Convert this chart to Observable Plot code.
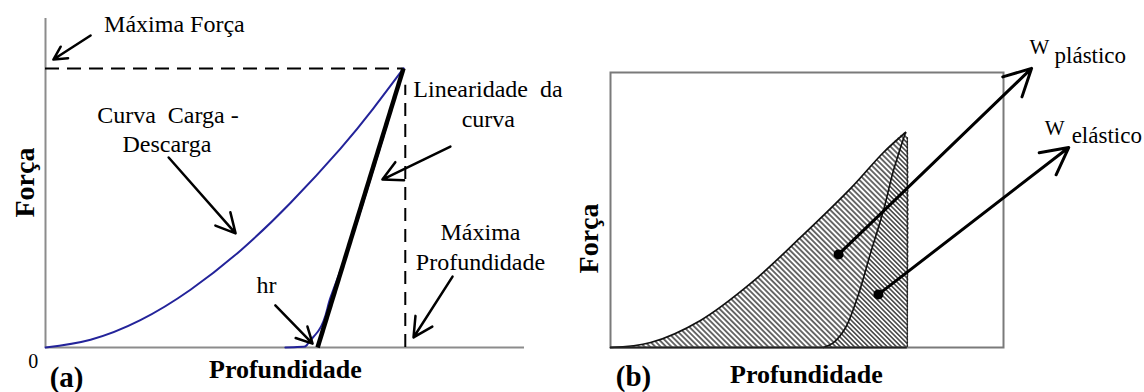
<!DOCTYPE html>
<html><head><meta charset="utf-8">
<script src="https://cdn.jsdelivr.net/npm/d3@7"></script>
<script src="https://cdn.jsdelivr.net/npm/@observablehq/plot@0.6"></script>
<style>
html,body{margin:0;padding:0;background:#fff;}
#chart{position:relative;width:1144px;height:392px;overflow:hidden;background:#fff;}
#chart svg{position:absolute;top:0;}
</style></head><body><div id="chart"></div>
<script>
// ---------- Panel (a): load-unload curve (normalised depth / force) ----------
const loadDepthA   = [0, 0.126, 0.265, 0.405, 0.545, 0.684, 0.824, 0.916, 1];
const loadForceA   = [0, 0.028, 0.098, 0.207, 0.348, 0.518, 0.713, 0.857, 1];
const unloadDepthA = [1, 0.919, 0.838, 0.796, 0.763, 0.735, 0.726, 0.670];
const unloadForceA = [1, 0.652, 0.326, 0.179, 0.061, 0.018, 0.004, 0];
const slopeDepthA  = [1, 0.760];
const slopeForceA  = [1, 0];
const extentA      = [1.338, 1.179];   // axis ends (depth, force)
const maxMarkA     = [1.005, 0.94];    // max-depth dashed line (depth, top)

const notesA = [
  {text: "Máxima Força", x: 0.360, y: 1.129},
  {text: "Curva\u00a0 Carga -", x: 0.342, y: 0.806},
  {text: "Descarga", x: 0.339, y: 0.699},
  {text: "Linearidade\u00a0 da", x: 1.236, y: 0.896},
  {text: "curva", x: 1.237, y: 0.789},
  {text: "hr", x: 0.617, y: 0.194},
  {text: "Máxima", x: 1.215, y: 0.384},
  {text: "Profundidade", x: 1.215, y: 0.276}
];
const tagA    = [{text: "(a)", x: 0.059, y: -0.143}];
const xLabelA = [{text: "Profundidade", x: 0.670, y: -0.108}];
const zeroA   = [{text: "0", x: -0.034, y: -0.072}];
const yLabelA = [{text: "Força", x: -0.031, y: 0.591}];
const arrowsA = [
  {x1: 0.126, y1: 1.118, x2: 0.022, y2: 1.032},
  {x1: 0.344, y1: 0.681, x2: 0.531, y2: 0.409},
  {x1: 1.131, y1: 0.720, x2: 0.941, y2: 0.602},
  {x1: 0.642, y1: 0.151, x2: 0.746, y2: 0.014},
  {x1: 1.137, y1: 0.254, x2: 1.028, y2: 0.036}
];

// ---------- Panel (b): plastic / elastic work ----------
const loadDepthB   = [0, 0.136, 0.305, 0.475, 0.644, 0.814, 0.925, 1];
const loadForceB   = [0, 0.023, 0.126, 0.298, 0.512, 0.740, 0.907, 1];
const unloadDepthB = [1, 0.959, 0.925, 0.881, 0.837, 0.797, 0.756, 0.722];
const unloadForceB = [1, 0.823, 0.637, 0.437, 0.233, 0.093, 0.023, 0];
const edgeDepthB   = [1.006, 1.006];
const edgeForceB   = [0.975, 0];
const extentB      = [1.332, 1.279];

const wLabelsB = [{text: "W", x: 1.420, y: 1.367}, {text: "W", x: 1.472, y: 0.986}];
const subsB    = [{text: "plástico", x: 1.505, y: 1.321}, {text: "elástico", x: 1.563, y: 0.949}];
const tagB     = [{text: "(b)", x: 0.078, y: -0.177}];
const xLabelB  = [{text: "Profundidade", x: 0.664, y: -0.163}];
const yLabelB  = [{text: "Força", x: -0.044, y: 0.507}];
const arrowsB  = [
  {x1: 0.773, y1: 0.433, x2: 1.427, y2: 1.298},
  {x1: 0.908, y1: 0.247, x2: 1.553, y2: 0.930}
];

// ---------- helpers ----------
const SERIF = "Liberation Serif, Times New Roman, serif";
const pts = (xs, ys) => xs.map((x, i) => ({x, y: ys[i]}));
const ns = "http://www.w3.org/2000/svg";
function addHatch(svg, id, gap, sw) {
  let defs = svg.querySelector("defs");
  if (!defs) { defs = document.createElementNS(ns, "defs"); svg.insertBefore(defs, svg.firstChild); }
  const p = document.createElementNS(ns, "pattern");
  p.setAttribute("id", id);
  p.setAttribute("patternUnits", "userSpaceOnUse");
  p.setAttribute("width", gap);
  p.setAttribute("height", gap);
  p.setAttribute("patternTransform", "rotate(-45)");
  const r = document.createElementNS(ns, "rect");
  r.setAttribute("width", gap); r.setAttribute("height", gap); r.setAttribute("fill", "#fff");
  const l = document.createElementNS(ns, "line");
  l.setAttribute("x1", gap / 2); l.setAttribute("x2", gap / 2);
  l.setAttribute("y1", 0); l.setAttribute("y2", gap);
  l.setAttribute("stroke", "#1e1e1e"); l.setAttribute("stroke-width", sw);
  p.appendChild(r); p.appendChild(l); defs.appendChild(p);
}
const txt = (data, size, extra = {}) =>
  Plot.text(data, {x: "x", y: "y", text: "text", fontFamily: SERIF, fontSize: size,
    textAnchor: "middle", lineAnchor: "bottom", fill: "black", ...extra});

// ---------- Panel (a) ----------
const loadA = pts(loadDepthA, loadForceA);
const unloadA = pts(unloadDepthA, unloadForceA);
const slopeA = pts(slopeDepthA, slopeForceA);

const plotA = Plot.plot({
  width: 580, height: 392,
  marginLeft: 45, marginRight: 56, marginTop: 18, marginBottom: 45,
  x: {domain: [0, extentA[0]], axis: null},
  y: {domain: [0, extentA[1]], axis: null},
  style: {fontFamily: SERIF, background: "transparent", overflow: "visible", color: "black"},
  marks: [
    Plot.ruleY([0], {x1: 0, x2: extentA[0], stroke: "#8c8c8c", strokeWidth: 2}),
    Plot.ruleX([0], {y1: 0, y2: extentA[1], stroke: "#8c8c8c", strokeWidth: 2}),
    Plot.ruleY([1], {x1: 0, x2: 1, stroke: "black", strokeWidth: 2, strokeDasharray: "14,8"}),
    Plot.ruleX([maxMarkA[0]], {y1: 0, y2: maxMarkA[1], stroke: "black", strokeWidth: 2, strokeDasharray: "13,8"}),
    Plot.line(loadA, {x: "x", y: "y", stroke: "#23239a", strokeWidth: 2, curve: "natural"}),
    Plot.line(unloadA, {x: "x", y: "y", stroke: "#23239a", strokeWidth: 2, curve: "monotone-y"}),
    Plot.line(slopeA, {x: "x", y: "y", stroke: "black", strokeWidth: 4.5, strokeLinecap: "butt"}),
    Plot.arrow(arrowsA, {x1: "x1", y1: "y1", x2: "x2", y2: "y2", stroke: "black", strokeWidth: 2.5, headLength: 13, headAngle: 55}),
    txt(notesA, 24),
    txt(zeroA, 20),
    txt(tagA, 29, {fontWeight: "bold"}),
    txt(xLabelA, 26, {fontWeight: "bold"}),
    txt(yLabelA, 28, {fontWeight: "bold", rotate: -90})
  ]
});
plotA.style.left = "0px";

// ---------- Panel (b) ----------
const loadB = pts(loadDepthB, loadForceB);
const unloadB = pts(unloadDepthB, unloadForceB);
const edgeB = pts(edgeDepthB, edgeForceB);
const plasticB = loadB.concat(unloadB.slice(1));
const elasticB = unloadB.slice().reverse().concat(edgeB);

const plotB = Plot.plot({
  width: 564, height: 392,
  marginLeft: 30, marginRight: 141, marginTop: 72, marginBottom: 45,
  x: {domain: [0, extentB[0]], axis: null},
  y: {domain: [0, extentB[1]], axis: null},
  style: {fontFamily: SERIF, background: "transparent", overflow: "visible", color: "black"},
  marks: [
    Plot.line(plasticB, {x: "x", y: "y", fill: "url(#hatchP)", stroke: "none", curve: "catmull-rom"}),
    Plot.line(elasticB, {x: "x", y: "y", fill: "url(#hatchE)", stroke: "none", curve: "catmull-rom"}),
    Plot.frame({stroke: "#7a7a7a", strokeWidth: 2}),
    Plot.line(loadB, {x: "x", y: "y", stroke: "#111", strokeWidth: 1.7, curve: "catmull-rom"}),
    Plot.line(unloadB, {x: "x", y: "y", stroke: "#111", strokeWidth: 1.6, curve: "catmull-rom"}),
    Plot.line(edgeB, {x: "x", y: "y", stroke: "#222", strokeWidth: 1.5, strokeDasharray: "1.5,1.5"}),
    Plot.ruleY([0], {x1: 0, x2: edgeDepthB[0], stroke: "#222", strokeWidth: 2}),
    Plot.arrow(arrowsB, {x1: "x1", y1: "y1", x2: "x2", y2: "y2", stroke: "black", strokeWidth: 3, headLength: 15, headAngle: 55}),
    Plot.dot(arrowsB, {x: "x1", y: "y1", r: 5, fill: "black"}),
    txt(wLabelsB, 21, {textAnchor: "start"}),
    txt(subsB, 23, {textAnchor: "start"}),
    txt(tagB, 29, {fontWeight: "bold"}),
    txt(xLabelB, 26, {fontWeight: "bold"}),
    txt(yLabelB, 28, {fontWeight: "bold", rotate: -90})
  ]
});
addHatch(plotB, "hatchP", 3.8, 1.3);
addHatch(plotB, "hatchE", 3.3, 1.3);
plotB.style.left = "580px";

const chart = document.getElementById("chart");
chart.appendChild(plotA);
chart.appendChild(plotB);
</script></body></html>
